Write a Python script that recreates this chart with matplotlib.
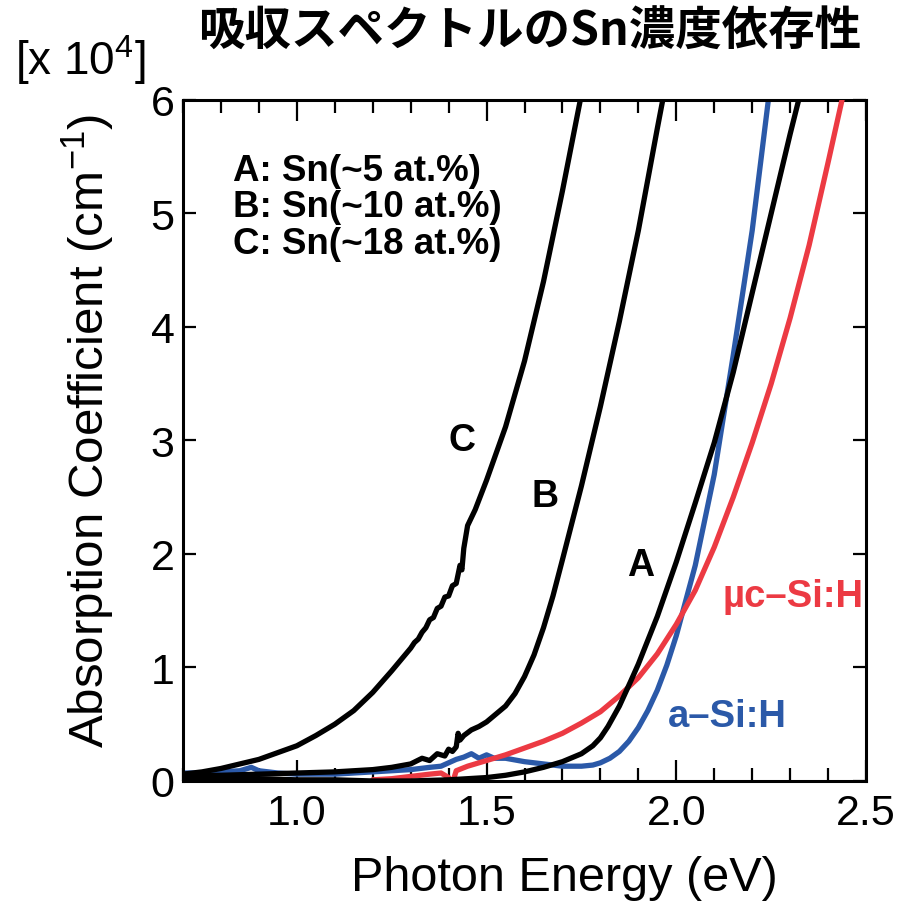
import matplotlib
matplotlib.use("Agg")
import matplotlib.pyplot as plt
from matplotlib.ticker import MultipleLocator

plt.rcParams['font.family'] = ['Liberation Sans', 'Noto Sans CJK JP', 'DejaVu Sans']
plt.rcParams['mathtext.default'] = 'regular'

# ---- data (photon energy in eV, absorption coefficient in 1e4 cm^-1) ----
E_C = [0.70, 0.75, 0.80, 0.85, 0.90, 0.95, 1.00, 1.05, 1.10, 1.15, 1.20, 1.25,
       1.30, 1.31, 1.32, 1.33, 1.34, 1.35, 1.36, 1.37, 1.38, 1.39, 1.40, 1.41, 1.42,
       1.43, 1.435, 1.44, 1.45, 1.46, 1.47, 1.50, 1.55, 1.60, 1.65, 1.70, 1.75]
a_C = [0.06, 0.08, 0.11, 0.15, 0.19, 0.25, 0.31, 0.40, 0.50, 0.62, 0.78, 0.97,
       1.17, 1.22, 1.25, 1.31, 1.35, 1.42, 1.44, 1.52, 1.54, 1.62, 1.63, 1.72, 1.74,
       1.90, 1.86, 2.05, 2.25, 2.32, 2.39, 2.65, 3.12, 3.70, 4.40, 5.20, 6.05]

E_B = [0.70, 0.80, 0.90, 1.00, 1.10, 1.20, 1.25, 1.30, 1.33, 1.35, 1.37, 1.39, 1.40,
       1.41, 1.42, 1.425, 1.43, 1.44, 1.46, 1.48, 1.50, 1.55, 1.575, 1.60, 1.625, 1.65,
       1.675, 1.70, 1.75, 1.80, 1.85, 1.90, 1.95, 1.97]
a_B = [0.05, 0.05, 0.06, 0.07, 0.08, 0.10, 0.12, 0.15, 0.20, 0.18, 0.24, 0.22, 0.28,
       0.26, 0.30, 0.42, 0.36, 0.40, 0.45, 0.48, 0.52, 0.66, 0.77, 0.92, 1.11, 1.35,
       1.63, 1.95, 2.60, 3.30, 4.05, 4.85, 5.75, 6.10]

E_A = [0.70, 0.80, 0.90, 1.00, 1.10, 1.20, 1.30, 1.40, 1.50, 1.55, 1.60, 1.65, 1.70,
       1.75, 1.78, 1.80, 1.82, 1.85, 1.88, 1.90, 1.95, 2.00, 2.05, 2.10, 2.15, 2.20,
       2.25, 2.30, 2.33]
a_A = [0.03, 0.02, 0.02, 0.01, 0.01, 0.00, 0.00, 0.01, 0.03, 0.05, 0.08, 0.12, 0.17,
       0.24, 0.31, 0.38, 0.48, 0.66, 0.88, 1.03, 1.45, 1.93, 2.45, 2.98, 3.60, 4.30,
       5.00, 5.70, 6.10]

E_aSi = [0.70, 0.75, 0.80, 0.85, 0.87, 0.88, 0.90, 0.95, 1.00, 1.10, 1.20, 1.30, 1.35,
         1.38, 1.40, 1.42, 1.44, 1.46, 1.48, 1.50, 1.52, 1.55, 1.60, 1.65, 1.70, 1.75,
         1.78, 1.80, 1.825, 1.85, 1.875, 1.90, 1.925, 1.95, 1.975, 2.00, 2.05, 2.10,
         2.15, 2.20, 2.25]
a_aSi = [0.07, 0.07, 0.08, 0.09, 0.11, 0.12, 0.09, 0.07, 0.06, 0.06, 0.08, 0.10, 0.12,
         0.13, 0.16, 0.19, 0.21, 0.24, 0.20, 0.23, 0.20, 0.20, 0.17, 0.15, 0.13, 0.13,
         0.14, 0.16, 0.20, 0.26, 0.35, 0.47, 0.62, 0.80, 1.02, 1.28, 1.90, 2.70,
         3.75, 4.85, 6.20]

E_uc = [1.20, 1.25, 1.30, 1.35, 1.38, 1.40, 1.41, 1.42, 1.45, 1.50, 1.55, 1.60, 1.65,
        1.70, 1.75, 1.80, 1.85, 1.90, 1.95, 2.00, 2.05, 2.10, 2.15, 2.20, 2.25, 2.30,
        2.35, 2.40, 2.44]
a_uc = [0.01, 0.02, 0.04, 0.06, 0.07, 0.03, -0.02, 0.09, 0.13, 0.18, 0.23, 0.29, 0.35,
        0.42, 0.51, 0.61, 0.75, 0.91, 1.12, 1.38, 1.68, 2.06, 2.50, 2.98, 3.50, 4.08,
        4.72, 5.45, 6.05]

legend_lines = ["A: Sn(~5 at.%)", "B: Sn(~10 at.%)", "C: Sn(~18 at.%)"]

BLACK = "#000000"
BLUE = "#2b59a8"
RED = "#ec3a43"

fig = plt.figure(figsize=(9.01, 9.04), dpi=100)
ax = fig.add_axes([0.2031, 0.1350, 0.7581, 0.7533])

lw = 3.8
ax.plot(E_aSi, a_aSi, color=BLUE, lw=lw, solid_capstyle='round', solid_joinstyle='round', zorder=2)
ax.plot(E_uc, a_uc, color=RED, lw=lw, solid_capstyle='round', solid_joinstyle='round', zorder=3)
ax.plot(E_A, a_A, color=BLACK, lw=lw, solid_capstyle='round', solid_joinstyle='round', zorder=4)
ax.plot(E_B, a_B, color=BLACK, lw=lw, solid_capstyle='round', solid_joinstyle='round', zorder=4)
ax.plot(E_C, a_C, color=BLACK, lw=lw, solid_capstyle='round', solid_joinstyle='round', zorder=4)

ax.set_xlim(0.7, 2.5)
ax.set_ylim(0, 6)
ax.xaxis.set_minor_locator(MultipleLocator(0.1))
ax.set_xticks([1.0, 1.5, 2.0, 2.5])
ax.set_xticklabels(["1.0", "1.5", "2.0", "2.5"])
ax.set_yticks([0, 1, 2, 3, 4, 5, 6])
ax.set_yticklabels(["0", "1", "2", "3", "4", "5", "6"])

for s in ax.spines.values():
    s.set_linewidth(2.2)
ax.tick_params(axis='x', which='major', direction='in', length=15, width=1.6,
               top=True, bottom=True, labelsize=31, pad=9)
ax.tick_params(axis='x', which='minor', direction='in', length=9.5, width=1.6,
               top=True, bottom=True)
ax.tick_params(axis='y', which='major', direction='in', length=9.5, width=1.6,
               left=True, right=True, labelsize=31, pad=6)

ax.set_xlabel("Photon Energy (eV)", fontsize=35)
ax.xaxis.set_label_coords(0.559, -0.108)
ax.set_ylabel(r"Absorption Coefficient (cm$^{-1}$)", fontsize=35.5)
ax.yaxis.set_label_coords(-0.097, 0.515)

# curve labels
ax.text(1.435, 3.0, "C", fontsize=27, fontweight='bold', ha='center', va='center')
ax.text(1.654, 2.51, "B", fontsize=27, fontweight='bold', ha='center', va='center')
ax.text(1.905, 1.90, "A", fontsize=27, fontweight='bold', ha='center', va='center')
ax.text(2.121, 1.63, "µc–Si:H", fontsize=27.5, fontweight='bold', color=RED,
        ha='left', va='center')
ax.text(1.978, 0.57, "a–Si:H", fontsize=27.5, fontweight='bold', color=BLUE,
        ha='left', va='center')

for i, t in enumerate(legend_lines):
    ax.text(0.832, 5.38 - 0.322 * i, t, fontsize=26.5, fontweight='bold',
            ha='left', va='center')

fig.text(15 / 901, 1 - 60 / 904, r"[x 10$^{4}$]", fontsize=33, ha='left', va='center')
fig.text(530 / 901, 1 - 32 / 904, "吸収スペクトルのSn濃度依存性", fontsize=33.5,
         fontweight='bold', family=['Noto Sans CJK JP'], ha='center', va='center')

fig.savefig("out.png", dpi=100)
